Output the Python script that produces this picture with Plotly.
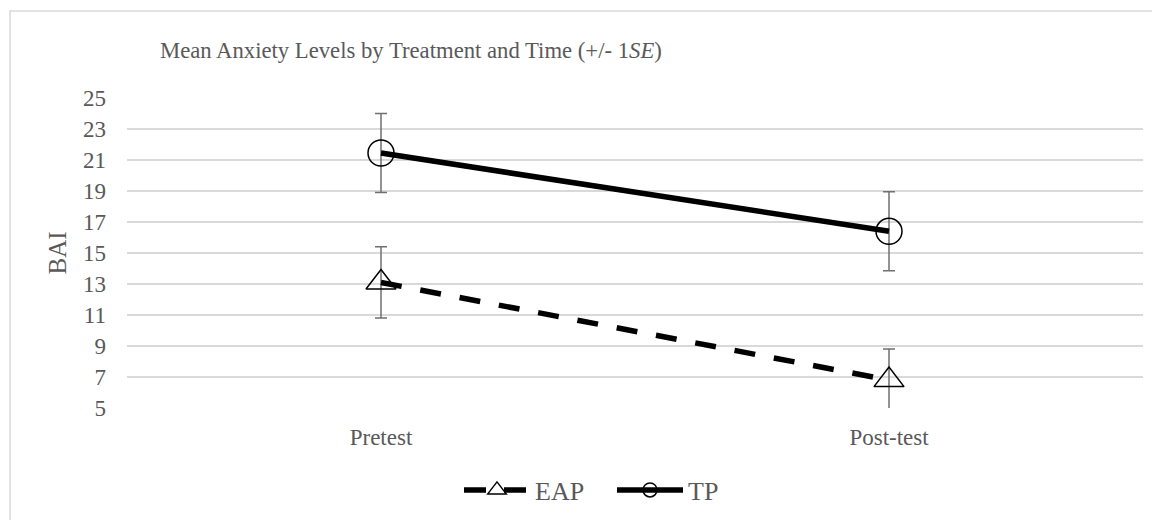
import plotly.graph_objects as go

times = ["Pretest", "Post-test"]
eap_mean = [13.1, 6.8]
eap_se = [2.3, 2.0]
tp_mean = [21.45, 16.4]
tp_se = [2.55, 2.55]
y_ticks = [5, 7, 9, 11, 13, 15, 17, 19, 21, 23, 25]

FONT = "Liberation Serif, Times New Roman, serif"
GREY = "#595959"

# page is offset by 8px body margin; layout numbers are in figure coords
L, R, T, B = 119, 25, 90, 120
PW = 1160 - L - R
PH = 520 - T - B

fig = go.Figure()

fig.add_trace(go.Scatter(
    x=times, y=eap_mean, mode="lines+markers", name="EAP", showlegend=False,
    line=dict(color="black", width=5.5, dash="21px,19px"),
    marker=dict(symbol="triangle-up-open", size=26, color="black",
                line=dict(color="black", width=1.5)),
    error_y=dict(type="data", array=eap_se, visible=True, color="#707070",
                 thickness=1.5, width=6),
))
fig.add_trace(go.Scatter(
    x=times, y=tp_mean, mode="lines+markers", name="TP", showlegend=False,
    line=dict(color="black", width=5.5),
    marker=dict(symbol="circle-open", size=26, color="black",
                line=dict(color="black", width=1.5)),
    error_y=dict(type="data", array=tp_se, visible=True, color="#707070",
                 thickness=1.5, width=6),
))
# legend entries
fig.add_trace(go.Scatter(
    x=[None], y=[None], mode="lines+markers", name="EAP",
    line=dict(color="black", width=5.5, dash="22px,18px"),
    marker=dict(symbol="triangle-up-open", size=16, color="black",
                line=dict(color="black", width=1.5)),
))
fig.add_trace(go.Scatter(
    x=[None], y=[None], mode="lines+markers", name="TP",
    line=dict(color="black", width=5.5),
    marker=dict(symbol="circle-open", size=14, color="black",
                line=dict(color="black", width=1.5)),
))

fig.update_layout(
    width=1160, height=520,
    margin=dict(l=L, r=R, t=T, b=B),
    paper_bgcolor="white", plot_bgcolor="white",
    font=dict(family=FONT, color=GREY, size=23),
    title=dict(text="Mean Anxiety Levels by Treatment and Time (+/- 1<i>SE</i>)",
               x=152 / 1160, xref="container", xanchor="left",
               y=1 - 42 / 520, yref="container", yanchor="middle",
               font=dict(family=FONT, size=22.7, color=GREY)),
    xaxis=dict(type="category", range=[-0.5, 1.5], showgrid=False,
               showline=False, zeroline=False, ticks="",
               ticklabelstandoff=13, tickfont=dict(size=23, color=GREY)),
    yaxis=dict(range=[5, 25], tickvals=y_ticks, showgrid=True,
               gridcolor="#d9d9d9", gridwidth=1.5, zeroline=False,
               showline=False, ticks="", ticklabelstandoff=20,
               tickfont=dict(size=23, color=GREY),
               title=dict(text="BAI", font=dict(size=25, color=GREY), standoff=9)),
    legend=dict(orientation="h", x=(604 - L) / PW, xanchor="center",
                y=(PH - (490 - 8 - T)) / PH, yanchor="middle",
                font=dict(size=26, color=GREY), itemwidth=66,
                entrywidth=72, entrywidthmode="pixels",
                bgcolor="rgba(0,0,0,0)"),
    shapes=[dict(type="rect", xref="paper", yref="paper",
                 x0=(2 - L) / PW, x1=1.2, y0=-0.6, y1=(PH + T - 3) / PH,
                 line=dict(color="#d9d9d9", width=1.5), fillcolor="rgba(0,0,0,0)",
                 layer="below")],
)

fig.write_html("out.html")
